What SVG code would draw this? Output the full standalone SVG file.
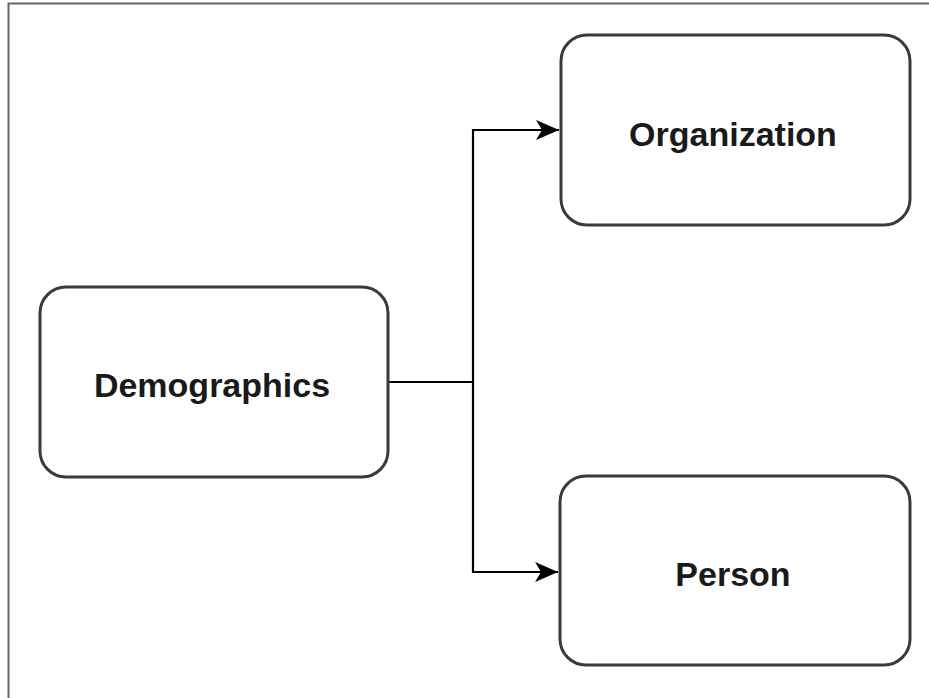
<svg xmlns="http://www.w3.org/2000/svg" width="929" height="698" viewBox="0 0 929 698">
<defs>
<style>
.box{fill:#fff;stroke:#3a3a3a;stroke-width:3}
.lbl{font-family:"Liberation Sans",Arial,sans-serif;font-weight:bold;font-size:34px;fill:#1a1a1a;text-anchor:middle}
.edge{fill:none;stroke:#000;stroke-width:2.2}
.frame{fill:none;stroke:#666;stroke-width:2}
</style>
<marker id="arr" viewBox="0 0 24 22" refX="23" refY="11" markerWidth="24" markerHeight="22" markerUnits="userSpaceOnUse" orient="auto">
<path d="M0,1 L23,11 L0,21 L6,11 Z" fill="#000"/>
</marker>
</defs>
<rect width="929" height="698" fill="#fff"/>
<path class="frame" d="M8.5,698 L8.5,3.5 L929,3.5"/>
<g id="connectors">
<path class="edge" d="M388,382 L473,382"/>
<path class="edge" d="M473,382 L473,130 L559,130" marker-end="url(#arr)"/>
<path class="edge" d="M473,382 L473,572 L558,572" marker-end="url(#arr)"/>
</g>
<g id="demographics">
<rect class="box" x="40" y="287" width="348" height="190" rx="26"/>
<text class="lbl" x="212" y="397">Demographics</text>
</g>
<g id="organization">
<rect class="box" x="561" y="35" width="349" height="190" rx="26"/>
<text class="lbl" x="733" y="146">Organization</text>
</g>
<g id="person">
<rect class="box" x="560" y="476" width="350" height="189" rx="26"/>
<text class="lbl" x="733" y="586">Person</text>
</g>
</svg>
